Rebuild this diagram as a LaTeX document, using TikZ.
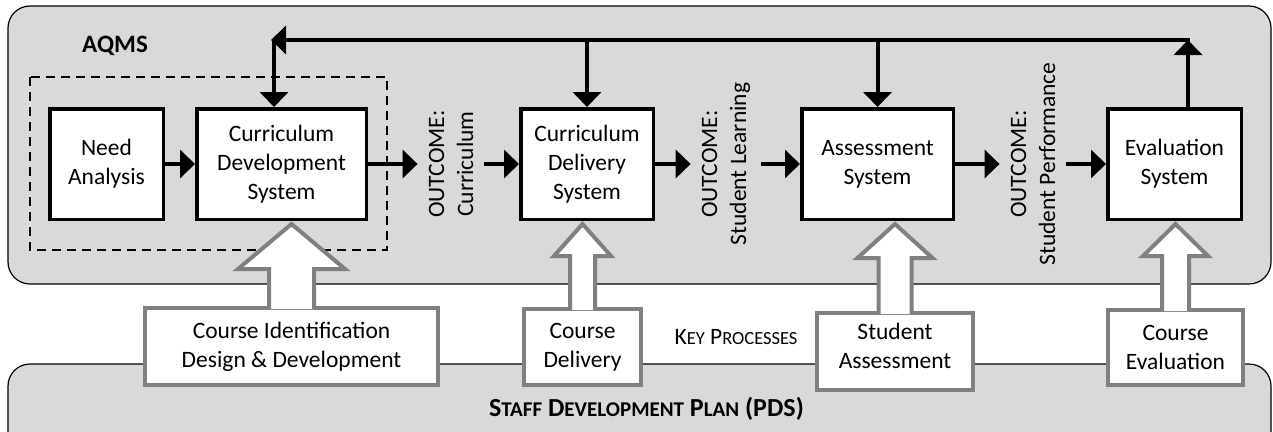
\documentclass[tikz,border=0pt]{standalone}
\usepackage{fontspec}
\setmainfont{Carlito}
\usetikzlibrary{arrows.meta,calc}
\definecolor{panelgray}{RGB}{217,217,217}
\definecolor{rimgray}{RGB}{128,128,128}
\newcommand{\lowcaps}[2]{{\fontsize{#1}{#1}\selectfont #2}}
% wide open arrow from a process box up into a system box
\newcommand{\hollowarrow}[5]{%
	\draw[hollow] let \p1=(#1.north), \p2=(#2.south) in
		({\x1-#3pt},{\y1-3pt}) -- ({\x1-#3pt},{\y2-#5pt}) -- ({\x1-#4pt},{\y2-#5pt}) -- (\x1,{\y2-3pt})
		-- ({\x1+#4pt},{\y2-#5pt}) -- ({\x1+#3pt},{\y2-#5pt}) -- ({\x1+#3pt},{\y1-3pt});
}

\begin{document}
\begin{tikzpicture}[x=1pt, y=-1pt, every node/.style={font=\fontsize{23.5}{29}\selectfont},
	panel/.style={draw, line width=1.2pt, fill=panelgray, rounded corners=22pt},
	sysbox/.style={draw, line width=3.5pt, fill=white, align=center, inner sep=0pt, minimum height=110.5pt},
	procbox/.style={draw=rimgray, line width=4pt, fill=white, align=center, inner sep=0pt},
	outcome/.style={rotate=90, align=center, inner sep=11pt},
	flow/.style={line width=4pt, -{Triangle[length=15pt, width=28pt]}},
	hollow/.style={draw=rimgray, line width=4pt, fill=white}]
	\useasboundingbox (0,0) rectangle (1273,431);
	\draw[panel] (8,6) rectangle (1271,284);
	\draw[panel] (8,364) rectangle (1271,480);
	\node[font=\bfseries\fontsize{25}{30}\selectfont] (aqms) at (115,46) {AQMS};
	\draw[line width=2pt, dash pattern=on 9pt off 6pt] (30,77) rectangle (387,250);

	\node[sysbox, minimum width=113.5pt] (NA) at (106.5,164) {Need\\Analysis};
	\node[sysbox, minimum width=169.5pt] (CDS) at (281.5,164) {Curriculum\\Development\\System};
	\node[outcome] (OC1) at (451,164) {OUTCOME:\\Curriculum};
	\node[sysbox, minimum width=132.5pt] (CDel) at (587,164) {Curriculum\\Delivery\\System};
	\node[outcome] (OC2) at (726,164) {OUTCOME:\\Student Learning};
	\node[sysbox, minimum width=151.5pt] (AS) at (877.5,164) {Assessment\\System};
	\node[outcome] (OC3) at (1033,164) {OUTCOME:\\Student Performance};
	\node[sysbox, minimum width=133.5pt] (ES) at (1174.5,164) {Evaluation\\System};

	\draw[flow] (NA) -- (CDS);
	\draw[flow] (CDS) -- (OC1);
	\draw[flow] (OC1) -- (CDel);
	\draw[flow] (CDel) -- (OC2);
	\draw[flow] (OC2) -- (AS);
	\draw[flow] (AS) -- (OC3);
	\draw[flow] (OC3) -- (ES);

	\coordinate (fbR) at (1188,40);
	\coordinate (fbL) at (271,40);
	\coordinate (fbC) at (274,40);
	\draw[flow] (fbR |- ES.north) -- (fbR);
	\draw[flow] ([xshift=2pt]fbR) -- (fbL);
	\draw[flow] (fbC) -- (fbC |- CDS.north);
	\draw[flow] (CDel.north |- fbR) -- (CDel.north);
	\draw[flow] (AS.north |- fbR) -- (AS.north);

	\node[procbox, minimum width=293pt, minimum height=77pt] (CIDD) at (291.5,346.5) {Course Identification\\Design \& Development};
	\node[procbox, minimum width=117pt, minimum height=76pt] (CD) at (582.5,347) {Course\\Delivery};
	\node[procbox, minimum width=156pt, minimum height=77pt] (SA) at (895,351.5) {Student\\Assessment\\[-17pt]{}};
	\node[procbox, minimum width=135pt, minimum height=75pt] (CE) at (1175.5,347.5) {Course\\Evaluation};
	\hollowarrow{CIDD}{CDS}{22.5}{53.5}{48}
	\hollowarrow{CD}{CDel}{12.5}{28.5}{35}
	\hollowarrow{SA}{AS}{16.5}{37.5}{37}
	\hollowarrow{CE}{ES}{13.5}{32.5}{35}

	\node (keyproc) at (736,337) {K\lowcaps{18.5}{EY} P\lowcaps{18.5}{ROCESSES}};
	\node[font=\bfseries\fontsize{26}{30}\selectfont] (pds) at (646.5,409) {S\lowcaps{21}{TAFF} D\lowcaps{21}{EVELOPMENT} P\lowcaps{21}{LAN} (PDS)};
\end{tikzpicture}
\end{document}
